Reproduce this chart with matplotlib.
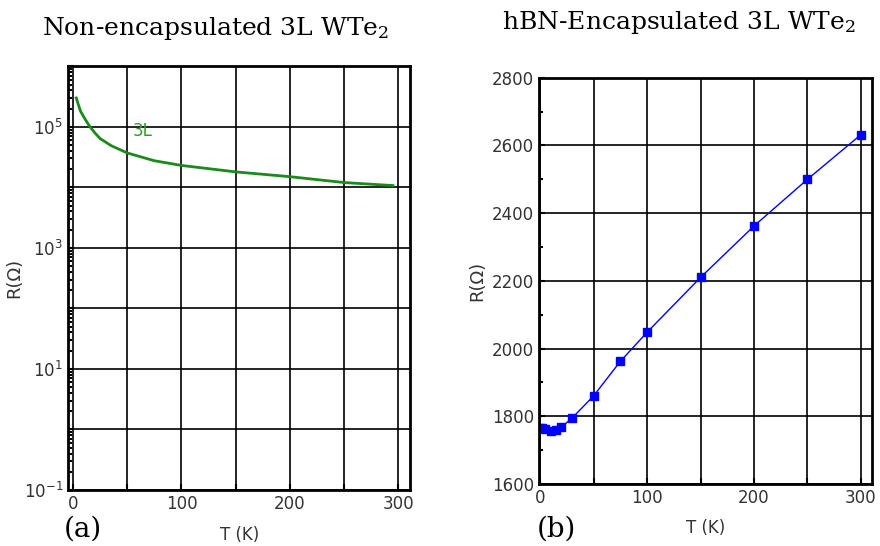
import matplotlib
matplotlib.use('Agg')
import matplotlib.pyplot as plt
from matplotlib.ticker import MultipleLocator, LogLocator, NullFormatter

plt.rcParams['mathtext.default'] = 'regular'

# Dados (a) - amostra não encapsulada, escala log
T_a = [3, 5, 7, 10, 13, 15.7, 20, 25, 35, 50, 75, 100, 150, 200, 250, 295]
R_a = [3.0e5, 2.3e5, 1.8e5, 1.45e5, 1.18e5, 1.0e5, 8.0e4, 6.4e4, 4.9e4, 3.7e4, 2.75e4, 2.3e4, 1.8e4, 1.5e4, 1.2e4, 1.07e4]

# Dados (b) - amostra encapsulada em hBN
T_b = [0, 2, 5, 10, 15, 20, 30, 50, 75, 100, 150, 200, 250, 300]
R_b = [1765, 1766, 1762, 1757, 1760, 1768, 1795, 1860, 1962, 2048, 2210, 2362, 2500, 2632]

dec_a = [1e-1, 1e0, 1e1, 1e2, 1e3, 1e4, 1e5, 1e6]
lab_a = ['$10^{-1}$', '', '$10^{1}$', '', '$10^{3}$', '', '$10^{5}$', '']
ticks_b = [1600, 1800, 2000, 2200, 2400, 2600, 2800]
ticks_x = [0, 50, 100, 150, 200, 250, 300]
lab_x = ['0', '', '100', '', '200', '', '300']

tick_font = 'DejaVu Sans'
serif = 'DejaVu Serif'

fig = plt.figure(figsize=(8.8, 5.46), dpi=100)

# Gráfico (a)
ax1 = fig.add_axes([0.0773, 0.1026, 0.389, 0.776])
ax1.plot(T_a, R_a, color='#1a8a1a', lw=2)
ax1.set_yscale('log')
ax1.set_ylim(1e-1, 1e6)
ax1.set_xlim(-4.6, 311)
ax1.set_yticks(dec_a)
ax1.set_yticklabels(lab_a)
ax1.yaxis.set_minor_locator(LogLocator(base=10, subs=range(2, 10), numticks=50))
ax1.yaxis.set_minor_formatter(NullFormatter())
ax1.set_xticks(ticks_x)
ax1.set_xticklabels(lab_x)
ax1.grid(True, which='major', color='black', lw=1.2)
ax1.text(55, 7.0e4, '3L', color='#2e9a2e', fontsize=12, family=tick_font)
ax1.set_xlabel('T (K)', fontsize=12, color='#333333', family=tick_font)
ax1.xaxis.set_label_coords(0.5, -0.085)
ax1.set_ylabel('R(Ω)', fontsize=13, color='#333333', family=tick_font)
ax1.yaxis.set_label_coords(-0.13, 0.5)
fig.text(0.245, 0.948, 'Non-encapsulated 3L WTe$_2$', family=serif, fontsize=18, ha='center', va='center')
fig.text(0.073, 0.03, '(a)', family=serif, fontsize=20, ha='left', va='center')

# Gráfico (b)
ax2 = fig.add_axes([0.6125, 0.1136, 0.378, 0.744])
ax2.plot(T_b, R_b, color='blue', lw=1, marker='s', ms=6)
ax2.set_xlim(-1, 310)
ax2.set_ylim(1600, 2800)
ax2.set_yticks(ticks_b)
ax2.yaxis.set_minor_locator(MultipleLocator(100))
ax2.set_xticks(ticks_x)
ax2.set_xticklabels(lab_x)
ax2.grid(True, which='major', color='black', lw=1.2)
ax2.set_xlabel('T (K)', fontsize=12, color='#333333', family=tick_font)
ax2.xaxis.set_label_coords(0.5, -0.085)
ax2.set_ylabel('R(Ω)', fontsize=13, color='#333333', family=tick_font)
ax2.yaxis.set_label_coords(-0.16, 0.5)
fig.text(0.772, 0.958, 'hBN-Encapsulated 3L WTe$_2$', family=serif, fontsize=18, ha='center', va='center')
fig.text(0.61, 0.03, '(b)', family=serif, fontsize=20, ha='left', va='center')

for ax in (ax1, ax2):
    for s in ax.spines.values():
        s.set_linewidth(2)
    ax.tick_params(which='both', direction='in', labelsize=12, labelcolor='#333333')
    ax.tick_params(which='minor', length=3, width=1.5)
    ax.tick_params(which='major', length=4, width=1.5)
    for lab in ax.get_xticklabels() + ax.get_yticklabels():
        lab.set_family(tick_font)

fig.savefig('out.png', dpi=100)
